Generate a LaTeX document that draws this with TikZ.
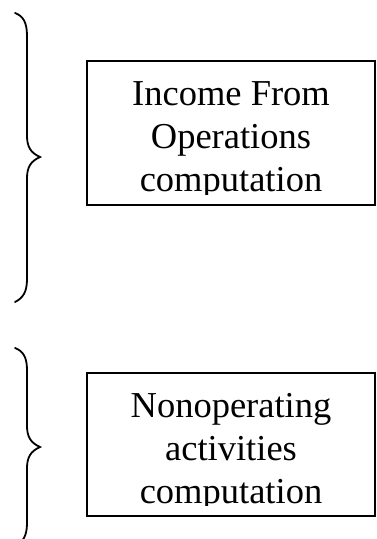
\documentclass[tikz,border=0pt]{standalone}
\usepackage{fontspec}
\setmainfont{Liberation Serif}
\begin{document}
\begin{tikzpicture}[x=1pt,y=-1pt,
  box/.style={draw=black, line width=1.7pt, inner sep=0pt},
  brace/.style={draw=black, line width=1.8pt, line cap=round},
  label/.style={anchor=base, inner sep=0pt, font=\fontsize{36.5}{43}\selectfont}]
\useasboundingbox (0,0) rectangle (377,539);
% boxes
\node[box, minimum width=288pt, minimum height=144pt] (b1) at (231,133) {};
\node[box, minimum width=288pt, minimum height=143pt] (b2) at (231,444.5) {};
% text of box 1, clipped at the bottom like the original text box
\begin{scope}
  \clip (88,62) rectangle (374,194.5);
  \node[label] (t1a) at (231,105) {Income From};
  \node[label] (t1b) at (231,148) {Operations};
  \node[label] (t1c) at (231,191) {computation};
\end{scope}
\begin{scope}
  \clip (88,374) rectangle (374,505.5);
  \node[label] (t2a) at (231,417) {Nonoperating};
  \node[label] (t2b) at (231,460) {activities};
  \node[label] (t2c) at (231,503) {computation};
\end{scope}
% braces
\begin{scope}
  \clip (0,0) rectangle (377,539);
  \draw[brace] (15,13) .. controls (23,16) and (27,22) .. (27,36)
    -- (27,136) .. controls (27,147) and (31,153) .. (40,157)
    .. controls (31,161) and (27,167) .. (27,178)
    -- (27,279) .. controls (27,292) and (23,298) .. (15,302);
  \draw[brace] (15,348) .. controls (23,351) and (27,357) .. (27,370)
    -- (27,426) .. controls (27,437) and (31,443) .. (40,447)
    .. controls (31,451) and (27,457) .. (27,468)
    -- (27,523) .. controls (27,536) and (23,542) .. (15,546);
\end{scope}
\end{tikzpicture}
\end{document}
